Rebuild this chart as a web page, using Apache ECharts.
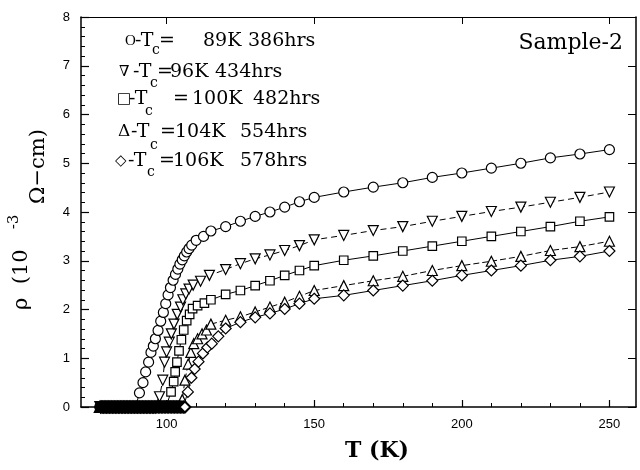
<!DOCTYPE html>
<html>
<head>
<meta charset="utf-8">
<script src="https://cdn.jsdelivr.net/npm/echarts@6/dist/echarts.min.js"></script>
<style>html,body{margin:0;padding:0;background:#fff;}#c{width:640px;height:470px;}</style>
</head>
<body>
<div id="c"></div>
<script>
// ---- axis ticks ----
const xMajorTicks = [100, 150, 200, 250];
const xMinorTicks = [80, 90, 110, 120, 130, 140, 160, 170, 180, 190, 210, 220, 230, 240];

// ---- Tc = 89K, 386 hrs (circles) ----
const circZeroT = [77.5,78,78.5,79,79.5,80,80.5,81,81.5,82,82.5,83,83.5,84,84.5,85,85.5,86,86.5,87,87.5,88,88.5,89,89.5];
const circT   = [90.8,92.0,92.9,93.9,94.7,95.5,96.2,97.1,98.0,98.9,99.7,100.5,101.3,102.2,103.0,103.8,104.5,105.3,106.0,106.8,107.6,108.5,110.0,112.5,115,120,125,130,135,140,145,150,160,170,180,190,200,210,220,230,240,250];
const circRho = [0.29,0.50,0.72,0.92,1.12,1.25,1.40,1.57,1.76,1.94,2.12,2.30,2.45,2.60,2.72,2.83,2.93,3.02,3.10,3.18,3.25,3.32,3.42,3.50,3.61,3.70,3.81,3.91,4.00,4.10,4.21,4.30,4.41,4.51,4.60,4.71,4.80,4.90,5.00,5.11,5.19,5.28];

// ---- Tc = 96K, 434 hrs (down triangles) ----
const dtriZeroT = [77.6,78.1,78.6,79.1,79.6,80.1,80.6,81.1,81.6,82.1,82.6,83.1,83.6,84.1,84.6,85.1,85.6,86.1,86.6,87.1,87.6,88.1,88.6,89.1,89.6,90.1,90.6,91.1,91.6,92.1,92.6,93.1,93.6,94.1,94.6,95.1,95.6,96.1];
const dtriT   = [97.6,98.7,99.3,100.0,100.9,101.6,102.5,103.6,104.7,105.5,106.5,107.6,109.0,111.5,114.5,120,125,130,135,140,145,150,160,170,180,190,200,210,220,230,240,250];
const dtriRho = [0.21,0.55,0.92,1.13,1.33,1.50,1.70,1.90,2.05,2.20,2.32,2.42,2.50,2.58,2.70,2.82,2.94,3.04,3.12,3.21,3.31,3.43,3.52,3.62,3.70,3.81,3.91,4.01,4.10,4.20,4.30,4.41];

// ---- Tc = 100K, 482 hrs (squares) ----
const sqZeroT = [77.8,78.3,78.8,79.3,79.8,80.3,80.8,81.3,81.8,82.3,82.8,83.3,83.8,84.3,84.8,85.3,85.8,86.3,86.8,87.3,87.8,88.3,88.8,89.3,89.8,90.3,90.8,91.3,91.8,92.3,92.8,93.3,93.8,94.3,94.8,95.3,95.8,96.3,96.8,97.3,97.8,98.3,98.8,99.3,99.8,100.3];
const sqT   = [101.5,102.4,102.9,103.5,104.2,105.0,105.8,106.8,107.8,108.8,110.5,112.8,115,120,125,130,135,140,145,150,160,170,180,190,200,210,220,230,240,250];
const sqRho = [0.31,0.52,0.72,0.92,1.15,1.38,1.58,1.77,1.90,2.02,2.08,2.13,2.20,2.31,2.39,2.49,2.59,2.70,2.80,2.90,3.01,3.10,3.20,3.30,3.40,3.50,3.60,3.70,3.81,3.90];

// ---- Tc = 104K, 554 hrs (up triangles) ----
const utriZeroT = [77.4,77.9,78.4,78.9,79.4,79.9,80.4,80.9,81.4,81.9,82.4,82.9,83.4,83.9,84.4,84.9,85.4,85.9,86.4,86.9,87.4,87.9,88.4,88.9,89.4,89.9,90.4,90.9,91.4,91.9,92.4,92.9,93.4,93.9,94.4,94.9,95.4,95.9,96.4,96.9,97.4,97.9,98.4,98.9,99.4,99.9,100.4,100.9,101.4,101.9,102.4,102.9,103.4,103.9,104.4];
const utriT   = [105.3,106.2,107.3,108.2,109.2,110.5,112.0,113.5,115,120,125,130,135,140,145,150,160,170,180,190,200,210,220,230,240,250];
const utriRho = [0.15,0.55,0.88,1.12,1.30,1.40,1.50,1.58,1.70,1.78,1.85,1.95,2.05,2.15,2.27,2.39,2.49,2.59,2.68,2.80,2.90,2.99,3.09,3.21,3.29,3.40];

// ---- Tc = 106K, 578 hrs (diamonds) ----
const diaZeroT = [77.7,78.2,78.7,79.2,79.7,80.2,80.7,81.2,81.7,82.2,82.7,83.2,83.7,84.2,84.7,85.2,85.7,86.2,86.7,87.2,87.7,88.2,88.7,89.2,89.7,90.2,90.7,91.2,91.7,92.2,92.7,93.2,93.7,94.2,94.7,95.2,95.7,96.2,96.7,97.2,97.7,98.2,98.7,99.2,99.7,100.2,100.7,101.2,101.7,102.2,102.7,103.2,103.7,104.2,104.7,105.2,105.7,106.2];
const diaT   = [107.2,108.4,109.5,110.8,112.3,113.8,115.3,117.5,120,125,130,135,140,145,150,160,170,180,190,200,210,220,230,240,250];
const diaRho = [0.31,0.60,0.78,0.93,1.10,1.22,1.30,1.45,1.61,1.74,1.84,1.92,2.01,2.12,2.22,2.29,2.39,2.49,2.59,2.70,2.80,2.90,3.01,3.09,3.20];

// ---- legend text rows ----
const legendMarks = ['O', '\u2207', '\u25A1', '\u0394', '\u25C7'];
const legendTc    = ['89K', '96K', '100K', '104K', '106K'];
const legendHrs   = ['386hrs', '434hrs', '482hrs', '554hrs', '578hrs'];

// layout of legend rows (pixels)
const rowLayout = [
  {y: 41,  mx: 125, tx: 135, cx: 152, cy: 50,  ex: 159, vx: 203, hx: 248, ms: 15},
  {y: 72,  mx: 119, tx: 133, cx: 150, cy: 83,  ex: 157, vx: 170, hx: 215, ms: 15},
  {y: 99,  mx: 117, tx: 129, cx: 145, cy: 111, ex: 173, vx: 192, hx: 253, ms: 15},
  {y: 132, mx: 118, tx: 131, cx: 150, cy: 145, ex: 160, vx: 175, hx: 240, ms: 17},
  {y: 161, mx: 115, tx: 128, cx: 147, cy: 172, ex: 159, vx: 173, hx: 240, ms: 15}
];

function pairs(zeroT, T, R) {
  const d = zeroT.map(t => ({value: [t, 0], itemStyle: {borderWidth: 2}}));
  for (let i = 0; i < T.length; i++) d.push([T[i], R[i]]);
  return d;
}

const SERIF = '"DejaVu Serif", "Liberation Serif", serif';
const SANS = '"Liberation Sans", Arial, sans-serif';

function mkSeries(data, symbol, size, lineType, rotate) {
  return {
    type: 'line', data: data, xAxisIndex: 0, yAxisIndex: 0,
    symbol: symbol, symbolSize: size, symbolRotate: rotate || 0,
    showAllSymbol: true, clip: false, sampling: null,
    lineStyle: {color: '#000', width: 1, type: lineType},
    itemStyle: {color: '#fff', borderColor: '#000', borderWidth: 1.2},
    emphasis: {disabled: true}, z: 3
  };
}

const graphics = [];
rowLayout.forEach((r, i) => {
  const base = {fill: '#000', fontFamily: SERIF, fontSize: 19, verticalAlign: 'middle', align: 'left'};
  const markFont = i === 0 ? '"Liberation Serif", serif' : SERIF;
  graphics.push({type: 'text', x: r.mx, y: r.y, style: Object.assign({}, base, {text: legendMarks[i], fontFamily: markFont, fontSize: r.ms, fontWeight: i === 4 ? 'bold' : 'normal'})});
  graphics.push({type: 'text', x: r.tx, y: r.y, style: Object.assign({}, base, {text: '-T'})});
  graphics.push({type: 'text', x: r.cx, y: r.cy, style: Object.assign({}, base, {text: 'c', fontSize: 14})});
  graphics.push({type: 'text', x: r.ex, y: r.y, style: Object.assign({}, base, {text: '='})});
  graphics.push({type: 'text', x: r.vx, y: r.y, style: Object.assign({}, base, {text: legendTc[i]})});
  graphics.push({type: 'text', x: r.hx, y: r.y, style: Object.assign({}, base, {text: legendHrs[i]})});
});
graphics.push({type: 'text', x: 623, y: 43, style: {text: 'Sample-2', fill: '#000', fontFamily: SERIF, fontSize: 22, align: 'right', verticalAlign: 'middle'}});
// axis titles
graphics.push({type: 'text', x: 377, y: 451, style: {text: 'T (K)', fill: '#000', fontFamily: SERIF, fontSize: 22, fontWeight: 'bold', align: 'center', verticalAlign: 'middle'}});
graphics.push({type: 'text', x: 22, y: 310, rotation: Math.PI / 2, style: {text: '\u03C1  (10', fill: '#000', fontFamily: SERIF, fontSize: 21, align: 'left', verticalAlign: 'middle'}});
graphics.push({type: 'text', x: 14, y: 222, rotation: Math.PI / 2, style: {text: '-3', fill: '#000', fontFamily: SERIF, fontSize: 15, align: 'center', verticalAlign: 'middle'}});
graphics.push({type: 'text', x: 39, y: 204, rotation: Math.PI / 2, style: {text: '\u03A9\u2212cm)', fill: '#000', fontFamily: SERIF, fontSize: 21, align: 'left', verticalAlign: 'middle'}});

const axisLineStyle = {color: '#000', width: 1.5};

const option = {
  animation: false,
  backgroundColor: '#fff',
  grid: {left: 81, top: 17, right: 4, bottom: 63, containLabel: false},
  xAxis: [
    {type: 'value', min: 71, max: 259, position: 'bottom',
     axisLine: {show: true, onZero: false, lineStyle: axisLineStyle},
     axisTick: {show: true, inside: true, length: 7, customValues: xMajorTicks, lineStyle: {color: '#000', width: 1.2}},
     axisLabel: {show: true, customValues: xMajorTicks, color: '#000', fontSize: 13, fontFamily: SANS, margin: 11},
     splitLine: {show: false}},
    {type: 'value', min: 71, max: 259, position: 'bottom',
     axisLine: {show: false, onZero: false},
     axisTick: {show: true, inside: true, length: 4, customValues: xMinorTicks, lineStyle: {color: '#000', width: 1}},
     axisLabel: {show: false}, splitLine: {show: false}},
    {type: 'value', min: 71, max: 259, position: 'top',
     axisLine: {show: true, onZero: false, lineStyle: {color: '#000', width: 1.2}},
     axisTick: {show: true, inside: true, length: 7, customValues: xMajorTicks, lineStyle: {color: '#000', width: 1}},
     axisLabel: {show: false}, splitLine: {show: false}}
  ],
  yAxis: [
    {type: 'value', min: 0, max: 8, interval: 1, position: 'left',
     axisLine: {show: true, onZero: false, lineStyle: axisLineStyle},
     axisTick: {show: true, inside: true, length: 8, lineStyle: {color: '#000', width: 1.2}},
     minorTick: {show: true, splitNumber: 5, length: 4, lineStyle: {color: '#000', width: 1}},
     axisLabel: {color: '#000', fontSize: 13, fontFamily: SANS, margin: 11},
     splitLine: {show: false}, minorSplitLine: {show: false}},
    {type: 'value', min: 0, max: 8, interval: 1, position: 'right',
     axisLine: {show: true, onZero: false, lineStyle: {color: '#000', width: 1.5}},
     axisTick: {show: true, inside: true, length: 8, lineStyle: {color: '#000', width: 1}},
     axisLabel: {show: false}, splitLine: {show: false}}
  ],
  series: [
    mkSeries(pairs(circZeroT, circT, circRho), 'circle', 10, 'solid'),
    mkSeries(pairs(dtriZeroT, dtriT, dtriRho), 'triangle', 10, [6, 4], 180),
    mkSeries(pairs(sqZeroT, sqT, sqRho), 'rect', 8.5, 'solid'),
    mkSeries(pairs(utriZeroT, utriT, utriRho), 'triangle', 10, [6, 3]),
    mkSeries(pairs(diaZeroT, diaT, diaRho), 'diamond', 11, 'solid')
  ],
  graphic: graphics
};

const chart = echarts.init(document.getElementById('c'), null, {renderer: 'canvas'});
chart.setOption(option);
</script>
</body>
</html>
